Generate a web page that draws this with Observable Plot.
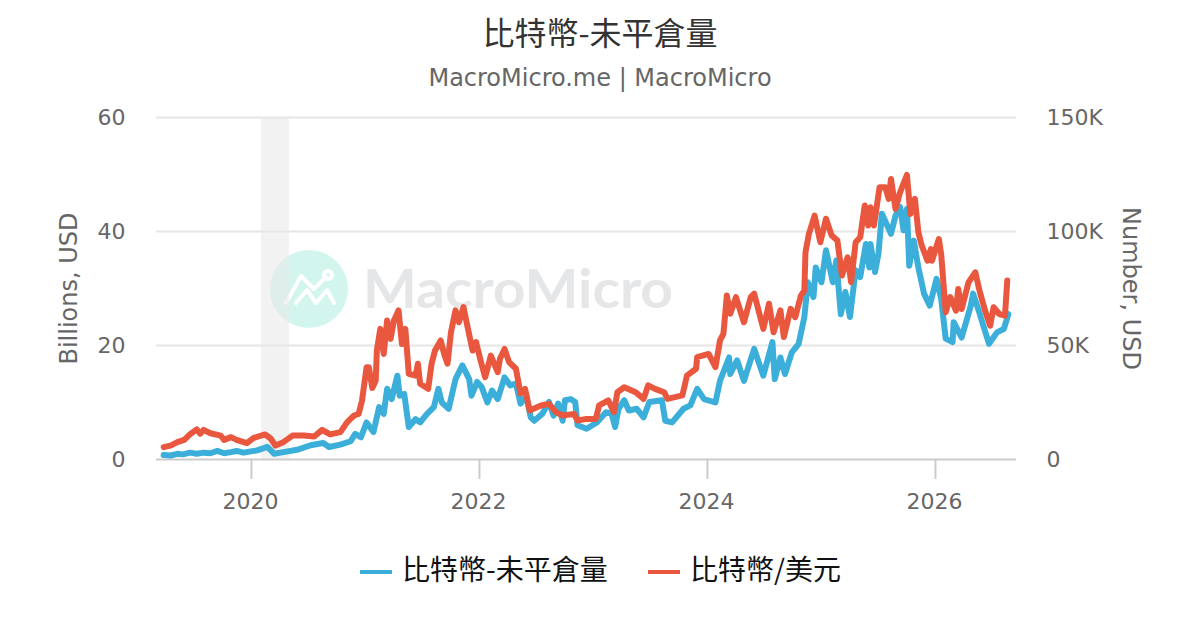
<!DOCTYPE html>
<html><head><meta charset="utf-8">
<script src="https://cdn.jsdelivr.net/npm/d3@7"></script>
<script src="https://cdn.jsdelivr.net/npm/@observablehq/plot@0.6"></script>
<style>
html,body{margin:0;padding:0;background:#fff;width:1200px;height:630px;overflow:hidden;font-family:"DejaVu Sans",sans-serif}
#wrap{position:relative;width:1200px;height:630px}
#title{position:absolute;left:0;right:0;top:9px;text-align:center;font:32px/44px "Noto Sans CJK TC",sans-serif;color:#333}
#sub{position:absolute;left:0;right:0;top:62px;text-align:center;font:24px/32px "DejaVu Sans",sans-serif;color:#666}
#mark{position:absolute;left:0;top:0}
#chart{position:absolute;left:0;top:100px}
#legend{position:absolute;left:0;top:546px;width:1200px;height:44px;font:28px/44px "Noto Sans CJK TC",sans-serif;color:#111}
#legend span{position:absolute;top:0;white-space:nowrap}
#legend i{position:absolute;top:24px;height:4px;width:32px}
</style></head><body>
<div id="wrap">
<svg id="mark" width="1200" height="630">
  <circle cx="309" cy="289" r="39" fill="#d2f5ee"/>
  <g fill="none" stroke="#fff" stroke-width="4" stroke-linecap="round" stroke-linejoin="round">
    <path d="M286 303 L301 276 L314 289 L326 277"/>
    <path d="M296 303 L307 290 L316 303 L327 290 L334 303"/>
    <circle cx="328" cy="275" r="4"/>
  </g>
  <text x="363" y="308" font-family="Lato, sans-serif" font-weight="700" font-size="53" fill="#e5e6e8" textLength="310" lengthAdjust="spacingAndGlyphs">MacroMicro</text>
</svg>
<div id="title">比特幣-未平倉量</div>
<div id="sub">MacroMicro.me | MacroMicro</div>
<div id="chart"></div>
<div id="legend">
  <i style="left:360px;background:#3bafda"></i><span style="left:402px">比特幣-未平倉量</span>
  <i style="left:648px;background:#e9573f"></i><span style="left:690px">比特幣/美元</span>
</div>
</div>
<script>
const xTicks = [2020, 2022, 2024, 2026];
const leftTicks = [0, 20, 40, 60];
const rightLabels = ["0", "50K", "100K", "150K"];
const recession = [2020.088, 2020.333];

const oiYears = [2019.23,2019.29,2019.35,2019.40,2019.46,2019.52,2019.58,2019.64,2019.70,2019.76,2019.82,2019.87,2019.93,2020.05,2020.14,2020.20,2020.28,2020.40,2020.52,2020.63,2020.68,2020.78,2020.87,2020.91,2020.96,2021.01,2021.07,2021.12,2021.16,2021.19,2021.23,2021.28,2021.30,2021.34,2021.38,2021.44,2021.48,2021.54,2021.60,2021.64,2021.67,2021.73,2021.79,2021.85,2021.91,2021.93,2021.98,2022.02,2022.07,2022.11,2022.16,2022.22,2022.27,2022.32,2022.36,2022.41,2022.45,2022.48,2022.55,2022.61,2022.65,2022.69,2022.73,2022.75,2022.80,2022.84,2022.86,2022.94,2023.03,2023.11,2023.16,2023.19,2023.22,2023.27,2023.31,2023.38,2023.44,2023.49,2023.60,2023.63,2023.69,2023.79,2023.85,2023.91,2023.97,2024.07,2024.11,2024.19,2024.20,2024.26,2024.32,2024.41,2024.49,2024.57,2024.59,2024.64,2024.68,2024.74,2024.80,2024.85,2024.88,2024.93,2024.95,2025.00,2025.04,2025.10,2025.13,2025.17,2025.21,2025.25,2025.30,2025.34,2025.39,2025.42,2025.43,2025.47,2025.50,2025.53,2025.61,2025.65,2025.69,2025.72,2025.75,2025.77,2025.81,2025.85,2025.90,2025.95,2026.01,2026.05,2026.09,2026.15,2026.16,2026.23,2026.31,2026.33,2026.38,2026.42,2026.47,2026.54,2026.60,2026.64];
const oiValues = [0.8,0.7,1.0,0.9,1.2,1.0,1.2,1.1,1.5,1.1,1.3,1.5,1.2,1.6,2.2,1.0,1.3,1.7,2.5,2.9,2.2,2.6,3.2,4.5,3.9,6.5,4.8,9.2,8,12.4,10.6,14.7,11.2,11.5,5.7,7.1,6.5,8,9.2,12.4,10,8.9,14.1,16.5,14.1,11.2,13.6,12.7,10,12.1,10.6,14.4,13,13.3,9.8,11.2,7.4,6.8,8,10.1,7.7,9.8,6.8,10.4,10.6,10.1,6,5.4,6.5,8.3,8,5.7,8.9,10.4,8.6,8.9,7.4,10.1,10.4,6.8,6.5,8.9,9.5,12.4,10.6,10,13.8,17.9,15,17.4,13.8,19.4,14.7,20.6,14.1,17.9,15,18.8,20.3,25,31.1,28.5,33.7,31.1,36.7,31.1,34.9,25.5,29.4,25,33.2,32,37.8,33.7,37.8,32.9,36.1,43.1,39.6,42.8,44.3,40.2,44,34,38.4,33.7,29.1,27,31.7,28.2,21.2,20.6,24.1,21.4,27,29.1,26.1,23.5,20.3,22.3,22.9,25.5];

const priceYears = [2019.23,2019.29,2019.35,2019.41,2019.46,2019.52,2019.55,2019.58,2019.64,2019.73,2019.76,2019.82,2019.87,2019.96,2020.02,2020.12,2020.17,2020.21,2020.28,2020.36,2020.46,2020.55,2020.62,2020.69,2020.78,2020.84,2020.90,2020.94,2020.97,2021.01,2021.03,2021.06,2021.09,2021.10,2021.13,2021.16,2021.19,2021.22,2021.25,2021.29,2021.32,2021.35,2021.38,2021.44,2021.46,2021.48,2021.55,2021.58,2021.61,2021.66,2021.69,2021.72,2021.75,2021.79,2021.82,2021.86,2021.89,2021.94,2021.97,2022.01,2022.05,2022.10,2022.16,2022.18,2022.22,2022.26,2022.32,2022.36,2022.40,2022.44,2022.54,2022.61,2022.67,2022.73,2022.83,2022.86,2022.94,2023.02,2023.05,2023.13,2023.18,2023.21,2023.27,2023.37,2023.44,2023.48,2023.54,2023.62,2023.65,2023.78,2023.82,2023.90,2023.91,2024.01,2024.07,2024.11,2024.14,2024.17,2024.20,2024.25,2024.32,2024.38,2024.41,2024.49,2024.54,2024.58,2024.64,2024.67,2024.73,2024.77,2024.82,2024.85,2024.86,2024.89,2024.94,2024.99,2025.04,2025.09,2025.14,2025.18,2025.23,2025.26,2025.30,2025.34,2025.38,2025.41,2025.43,2025.46,2025.51,2025.56,2025.59,2025.61,2025.65,2025.69,2025.75,2025.78,2025.82,2025.85,2025.88,2025.93,2025.96,2025.97,2026.03,2026.05,2026.09,2026.13,2026.18,2026.20,2026.23,2026.29,2026.35,2026.39,2026.44,2026.48,2026.51,2026.56,2026.61,2026.63];
const priceValues = [5.4,6.1,7.6,8.6,11.0,13.2,11.3,13.0,11.5,10.5,8.6,9.8,8.6,7.2,9.5,11.0,9.1,6.1,7.6,10.5,10.5,10.1,13.0,11.0,12,16.4,19.3,20,25.9,40.5,40.5,31.4,34.6,47.8,57.3,46.3,61,52.9,61,65.4,50.7,57.3,37.6,36.8,42,33.2,31,42,47.8,52.2,46.3,42,55.8,65.4,60.2,66.8,59.5,47.8,51.5,43.4,36.1,45.6,38.3,44.2,48.5,42.7,39.8,29,31,21.5,23.7,24.4,20.8,19.3,20,17.1,17.8,17.8,23.7,25.9,20.8,29.5,31.7,29.5,26.6,32.5,31,29.5,26.6,28.1,36.8,39.8,44.9,46.3,40.5,52.2,55.1,71.9,63.9,71.2,60.2,71.2,72.7,57.3,68.3,55.8,65.4,53.7,66.1,62.4,71.9,74.1,90.9,99,107,95.3,105.6,98.2,96,80.7,88.7,77.8,95.3,97.5,111.4,102.6,110.6,102.6,119.4,119.4,114.3,123,109.9,117.2,124.8,107.7,114.3,99.7,93.8,87.2,92.3,87.2,96.7,90.2,64.6,71.2,65.3,74.8,66,77.7,82.1,73.3,64.6,58.7,66.8,63.8,63.1,78.5];

const oiRows = oiYears.map((x, i) => ({x, y: oiValues[i]}));
// price (thousand USD) shares the plot with the left axis: 150K sits where 60 does
const priceRows = priceYears.map((x, i) => ({x, y: priceValues[i] / 2.5}));

const gray = "#666";
const plot = Plot.plot({
  width: 1200, height: 430,
  marginLeft: 156, marginRight: 184, marginTop: 17, marginBottom: 71,
  style: {background: "transparent", fontFamily: "'DejaVu Sans', sans-serif"},
  x: {domain: [2019.167, 2026.711]},
  y: {domain: [0, 60]},
  marks: [
    Plot.ruleY(leftTicks.slice(1), {stroke: "#e6e6e6", strokeWidth: 2}),
    Plot.rectX([recession], {x1: d => d[0], x2: d => d[1], fill: "#e8e8e8", fillOpacity: 0.55}),
    Plot.ruleY([0], {stroke: "#ccc", strokeWidth: 2}),
    Plot.axisX(xTicks, {tickSize: 20, stroke: "#ccc", strokeWidth: 2, tickFormat: () => "", label: null}),
    Plot.axisX(xTicks, {tickSize: 0, tickPadding: 34, tickFormat: "d", color: gray, fontSize: 22, dx: -1, label: null}),
    Plot.axisY(leftTicks, {tickSize: 0, tickPadding: 31, color: gray, fontSize: 22, label: null}),
    Plot.axisY(leftTicks, {anchor: "right", tickSize: 0, tickPadding: 30, color: gray, fontSize: 22,
      tickFormat: d => rightLabels[leftTicks.indexOf(d)], label: null}),
    Plot.text(["Billions, USD"], {frameAnchor: "left", textAnchor: "middle", lineAnchor: "middle", rotate: -90, dx: -87, fontSize: 24, fill: gray}),
    Plot.text(["Number, USD"], {frameAnchor: "right", textAnchor: "middle", lineAnchor: "middle", rotate: 90, dx: 114, fontSize: 24, fill: gray}),
    Plot.line(oiRows, {x: "x", y: "y", stroke: "#3bafda", strokeWidth: 6, strokeLinejoin: "round", curve: "linear"}),
    Plot.line(priceRows, {x: "x", y: "y", stroke: "#e9573f", strokeWidth: 6, strokeLinejoin: "round", curve: "linear"})
  ]
});
document.getElementById("chart").appendChild(plot);
</script>
</body></html>
